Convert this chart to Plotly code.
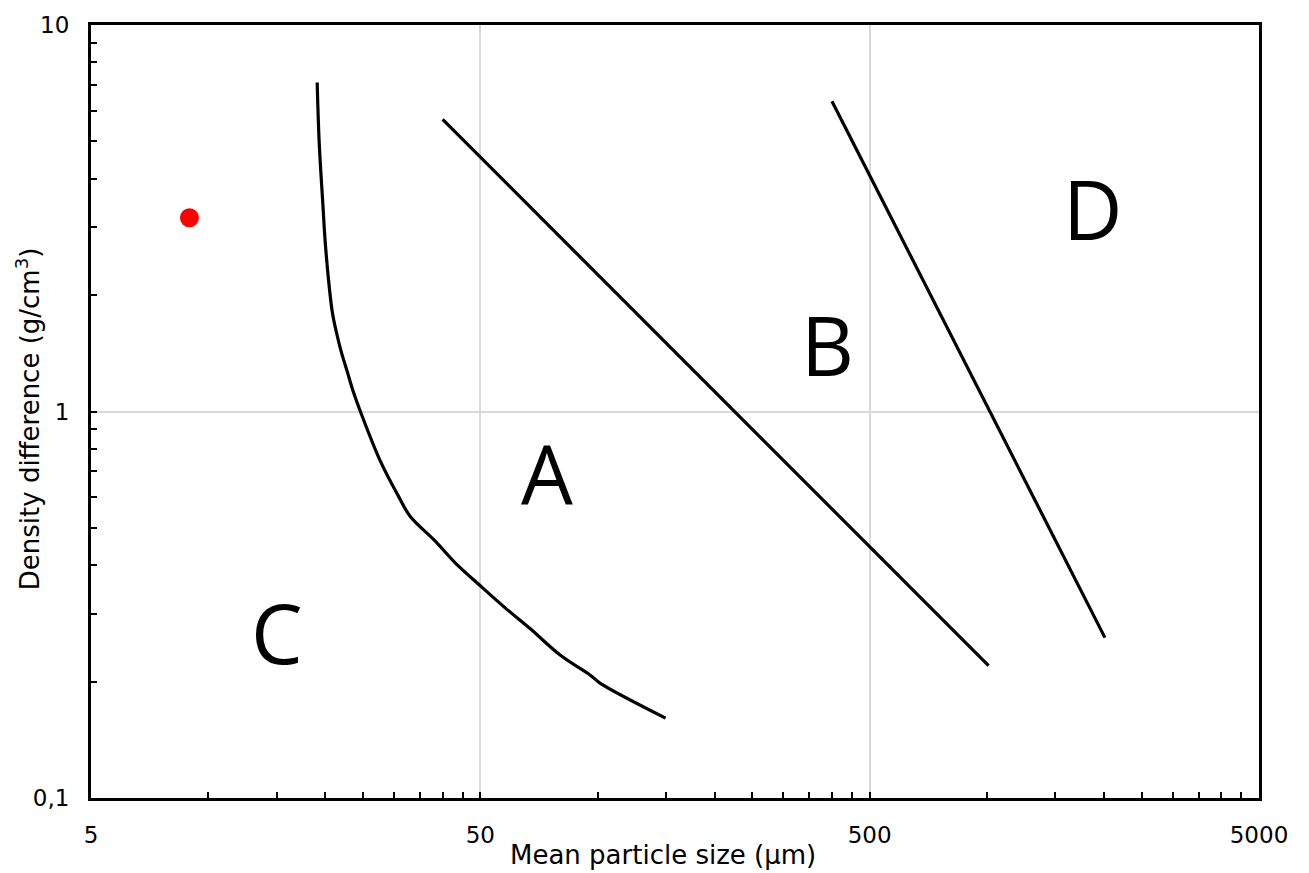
import math
import plotly.graph_objects as go

# Boundary between regions C and A
curve_ca_x = [19.05, 19.28, 19.69, 19.98, 20.40, 20.83, 21.33, 21.96, 22.76, 23.58, 24.6, 27.7, 30.8, 33.0, 38.3, 43.1, 50, 58, 67.2, 80.3, 96, 101.7, 149.5]
curve_ca_y = [7.1, 4.965, 3.47, 2.742, 2.163, 1.810, 1.608, 1.428, 1.268, 1.126, 1.0, 0.743, 0.604, 0.536, 0.462, 0.406, 0.354, 0.31, 0.274, 0.234, 0.2075, 0.198, 0.161]

# Boundary between regions A and B
line_ab_x = [40, 1010]
line_ab_y = [5.7, 0.22]

# Boundary between regions B and D
line_bd_x = [400, 2010]
line_bd_y = [6.35, 0.26]

# Single measured point
point_x = [8.95]
point_y = [3.17]

# Region labels
region_text = ["A", "B", "C", "D"]
region_x = [74.3, 390, 15.0, 1870]
region_y = [0.668, 1.445, 0.26, 3.24]

x_tickvals = [5, 50, 500, 5000]
x_ticktext = ["5", "50", "500", "5000"]
y_tickvals = [0.1, 1, 10]
y_ticktext = ["0,1", "1", "10"]

x_minor = [k * b for b in (5, 50, 500) for k in range(2, 10)]
y_minor = [k * b for b in (0.1, 1) for k in range(2, 10)]

fig = go.Figure()
line_style = dict(color="black", width=3.2)
for xs, ys in [(curve_ca_x, curve_ca_y), (line_ab_x, line_ab_y), (line_bd_x, line_bd_y)]:
    fig.add_trace(go.Scatter(x=xs, y=ys, mode="lines", line=line_style,
                             line_shape="spline", showlegend=False, hoverinfo="skip"))

fig.add_trace(go.Scatter(x=point_x, y=point_y, mode="markers",
                         marker=dict(color="#ff0000", size=19), showlegend=False))

# annotation coordinates on log axes are given in log10 units
for t, xv, yv in zip(region_text, region_x, region_y):
    fig.add_annotation(x=math.log10(xv), y=math.log10(yv), xref="x", yref="y", text=t,
                       showarrow=False, yshift=6,
                       font=dict(family="Open Sans", size=82, color="black"),
                       xanchor="center", yanchor="middle")

tick_font = dict(family="DejaVu Sans", size=23, color="black")
title_font = dict(family="DejaVu Sans", size=26, color="black")
common = dict(type="log", showline=True, linewidth=3, linecolor="black", mirror=True,
              ticks="inside", ticklen=6, tickwidth=2, tickcolor="black",
              showgrid=True, gridcolor="#d9d9d9", gridwidth=1.5, zeroline=False,
              tickfont=tick_font, ticklabelstandoff=14)

fig.update_xaxes(range=[0.69897, 3.69897], tickmode="array", tickvals=x_tickvals,
                 ticktext=x_ticktext,
                 minor=dict(tickmode="array", tickvals=x_minor, ticks="inside", ticklen=6,
                            tickwidth=2, tickcolor="black", showgrid=False),
                 **common)
fig.update_yaxes(range=[-1, 1], tickmode="array", tickvals=y_tickvals,
                 ticktext=y_ticktext,
                 minor=dict(tickmode="array", tickvals=y_minor, ticks="inside", ticklen=6,
                            tickwidth=2, tickcolor="black", showgrid=False),
                 **common)

fig.add_annotation(text="Mean particle size (µm)", xref="paper", yref="paper",
                   x=0.49, y=0, yshift=-57, showarrow=False, font=title_font,
                   xanchor="center", yanchor="middle")
fig.add_annotation(text="Density difference (g/cm<sup>3</sup>)", xref="paper", yref="paper",
                   x=0, xshift=-63, y=0.49, textangle=-90, showarrow=False, font=title_font,
                   xanchor="center", yanchor="middle")

fig.update_layout(width=1309, height=873, margin=dict(l=91, r=50, t=22, b=75),
                  plot_bgcolor="white", paper_bgcolor="white", showlegend=False)

fig.write_html("out.html")
